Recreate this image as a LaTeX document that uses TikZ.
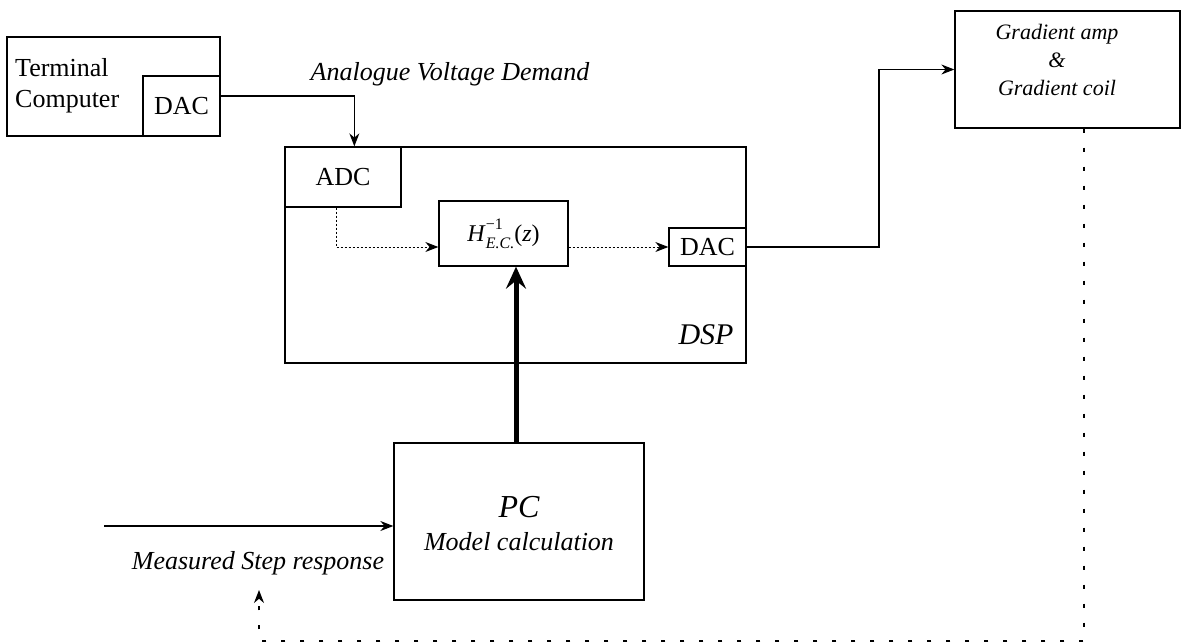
\documentclass[tikz,border=0pt]{standalone}
\usepackage{fontspec}
\setmainfont{Liberation Serif}
\usetikzlibrary{arrows.meta,calc}
\newcommand{\Hinv}{\fontsize{24}{28}\selectfont\textit{H}\makebox[0pt][l]{\raisebox{0.5em}{\fontsize{16}{16}\selectfont −1}}\raisebox{-0.3em}{\fontsize{16}{16}\selectfont\itshape E.C.}(\textit{z})}
\tikzset{
  bx/.style={draw, line width=1.3pt, inner sep=0pt, anchor=center},
  up/.style={font=\fontsize{26}{31}\selectfont},
  lbl/.style={font=\fontsize{26}{31}\selectfont\itshape, inner sep=0pt},
  conn/.style={line width=1.2pt, -{Stealth[length=13pt,width=10pt]}},
  dots/.style={line width=1pt, dash pattern=on 2.5pt off 1.5pt, -{Stealth[length=13pt,width=10pt]}},
  fb/.style={line width=1.2pt, dash pattern=on 4pt off 15pt, -{Stealth[length=13pt,width=10pt]}},
  bigarrow/.style={line width=5pt, -{Stealth[length=22pt,width=20pt,inset=8pt]}}
}
\begin{document}
\begin{tikzpicture}[x=1pt,y=-1pt]
\useasboundingbox (0,0) rectangle (1184,643);
% Terminal computer
\node[bx, minimum width=213pt, minimum height=99pt] (term) at (113.5,86.5) {};
\node[bx, minimum width=77pt, minimum height=60pt, up] (tdac) at (181.5,106) {DAC};
\node[up, align=left, anchor=west, inner sep=0pt] (termtxt) at (15,86) {Terminal\\Computer};
\node[lbl] (avd) at (450,74) {Analogue Voltage Demand};
% DSP
\node[bx, minimum width=461pt, minimum height=216pt] (dsp) at (515.5,255) {};
\node[bx, minimum width=116pt, minimum height=60pt, up] (adc) at (343,177) {ADC};
\node[bx, minimum width=129pt, minimum height=65pt] (hf) at (503.5,233.5) {\Hinv};
\node[bx, minimum width=77pt, minimum height=38pt, up] (dac) at (707.5,247) {DAC};
\node[font=\fontsize{30}{36}\selectfont\itshape, inner sep=0pt] (dsplbl) at (706,335) {DSP};
% Gradient
\node[bx, minimum width=225pt, minimum height=117pt] (grad) at (1067.5,69.5) {};
\node[font=\fontsize{22}{28}\selectfont\itshape, align=center, inner sep=0pt] (gradtxt) at (1057,60) {Gradient amp\\\&\\Gradient coil};
% PC
\node[bx, minimum width=250pt, minimum height=157pt] (pc) at (519,521.5) {};
\node[font=\fontsize{32}{38}\selectfont\itshape, inner sep=0pt] (pctxt) at (519,507) {PC};
\node[lbl] (model) at (519,542) {Model calculation};
\node[lbl] (msr) at (258,563) {Measured Step response};
% coordinates
\coordinate (avdin) at ($(dsp.north west)+(70,0)$);
\coordinate (adcout) at ($(adc.south)+(-7,0)$);
\coordinate (hin) at ($(hf.west)+(0,13.5)$);
\coordinate (bend) at (879,247);
\coordinate (pcout) at ($(pc.north)+(-3,0)$);
\coordinate (msrin) at (104,526);
\coordinate (fbtop) at ($(grad.south)+(16.5,0)$);
\coordinate (fbcorner) at (259,641);
\coordinate (fbend) at (259,590);
% connectors
\draw[conn] ($(tdac.east)+(0,-10)$) -| (avdin);
\draw[dots] (adcout) |- (hin);
\draw[dots] (hf.east |- dac.west) -- (dac.west);
\draw[conn] (dac.east) -- (bend) |- (grad.west);
\draw[bigarrow] (pcout) -- (pcout |- hf.south);
\draw[conn] (msrin) -- (msrin -| pc.west);
\draw[fb] (fbtop) |- (fbcorner) -- (fbend);
\end{tikzpicture}
\end{document}
